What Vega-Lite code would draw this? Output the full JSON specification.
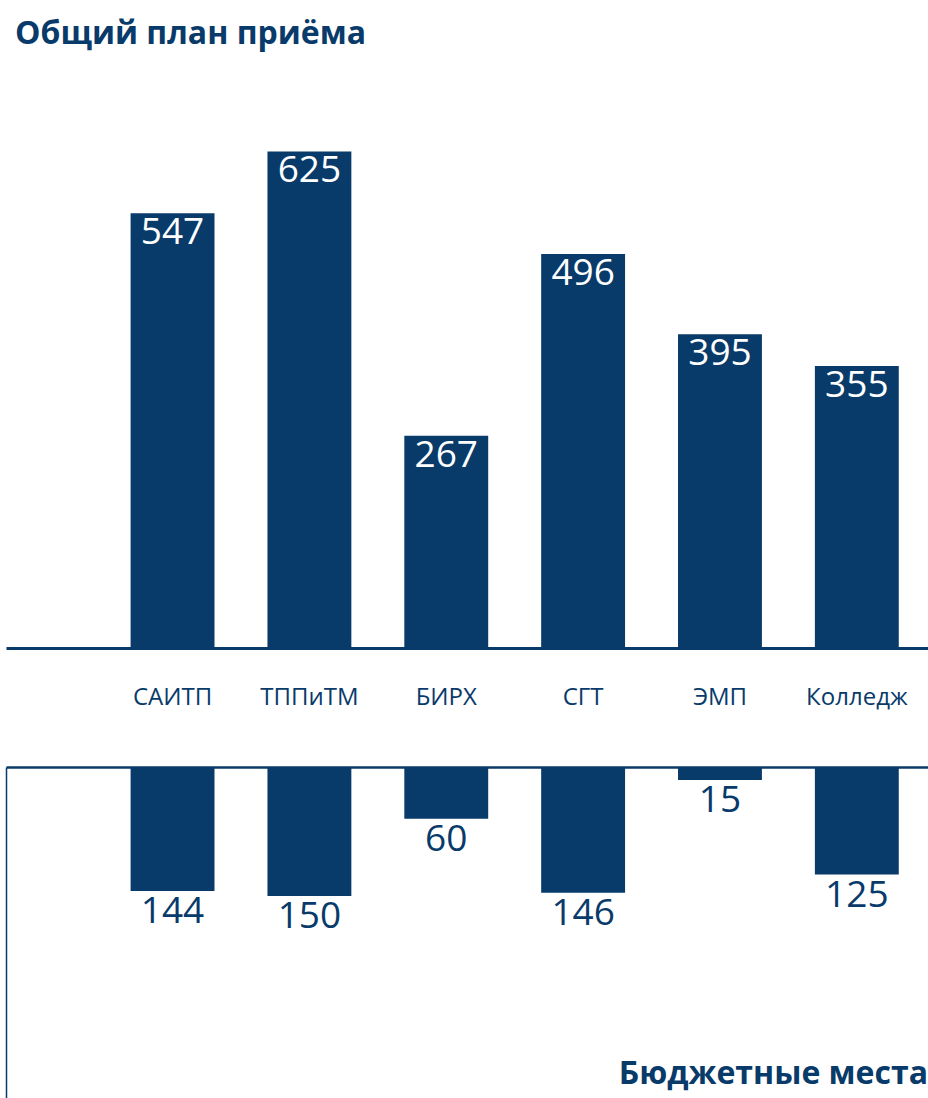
{
  "$schema": "https://vega.github.io/schema/vega-lite/v6.json",
  "background": "white",
  "padding": {"left": 6, "top": 18, "right": 0, "bottom": 0},
  "autosize": {"type": "pad"},
  "title": {
    "text": "Общий план приёма",
    "anchor": "start",
    "frame": "group",
    "fontSize": 32,
    "font": "Open Sans",
    "fontWeight": "bold",
    "color": "#083a6a",
    "dx": 9,
    "offset": 9
  },
  "data": {
    "values": [
      {"name": "САИТП", "total": 547, "budget": 144},
      {"name": "ТППиТМ", "total": 625, "budget": 150},
      {"name": "БИРХ", "total": 267, "budget": 60},
      {"name": "СГТ", "total": 496, "budget": 146},
      {"name": "ЭМП", "total": 395, "budget": 15},
      {"name": "Колледж", "total": 355, "budget": 125}
    ]
  },
  "spacing": 58,
  "vconcat": [
    {
      "width": 922,
      "height": 588,
      "encoding": {
        "x": {
          "field": "name",
          "type": "nominal",
          "sort": null,
          "scale": {"paddingInner": 0.387, "paddingOuter": 0.562, "align": 0.81},
          "axis": {
            "title": null,
            "domainColor": "#083a6a",
            "domainWidth": 3,
            "ticks": false,
            "tickSize": 0,
            "labelAngle": 0,
            "labelFontSize": 24,
            "labelFont": "Open Sans",
            "labelColor": "#083a6a",
            "labelPadding": 49,
            "labelBaseline": "middle"
          }
        },
        "y": {
          "field": "total",
          "type": "quantitative",
          "scale": {"domain": [0, 740]},
          "axis": null
        }
      },
      "layer": [
        {"mark": {"type": "bar", "color": "#083a6a"}},
        {
          "mark": {"type": "text", "color": "white", "baseline": "top", "dy": 2, "fontSize": 37, "font": "Open Sans"},
          "encoding": {"text": {"field": "total", "type": "quantitative"}}
        }
      ]
    },
    {
      "width": 922,
      "height": 340,
      "title": {
        "text": "Бюджетные места",
        "orient": "bottom",
        "anchor": "end",
        "frame": "group",
        "fontSize": 32,
        "font": "Open Sans",
        "fontWeight": "bold",
        "color": "#083a6a",
        "offset": -48
      },
      "encoding": {
        "x": {
          "field": "name",
          "type": "nominal",
          "sort": null,
          "scale": {"paddingInner": 0.387, "paddingOuter": 0.562, "align": 0.81},
          "axis": {
            "orient": "top",
            "title": null,
            "domainColor": "#083a6a",
            "domainWidth": 2.5,
            "ticks": false,
            "tickSize": 0,
            "labels": false
          }
        },
        "y": {
          "field": "budget",
          "type": "quantitative",
          "scale": {"domain": [0, 395], "reverse": true},
          "axis": {
            "title": null,
            "domainColor": "#083a6a",
            "domainWidth": 1.5,
            "ticks": false,
            "tickSize": 0,
            "labels": false,
            "grid": false
          }
        }
      },
      "layer": [
        {"mark": {"type": "bar", "color": "#083a6a"}},
        {
          "mark": {"type": "text", "color": "#083a6a", "baseline": "top", "dy": 3, "fontSize": 37, "font": "Open Sans"},
          "encoding": {"text": {"field": "budget", "type": "quantitative"}}
        }
      ]
    }
  ],
  "config": {
    "view": {"stroke": null},
    "axis": {"grid": false}
  }
}
